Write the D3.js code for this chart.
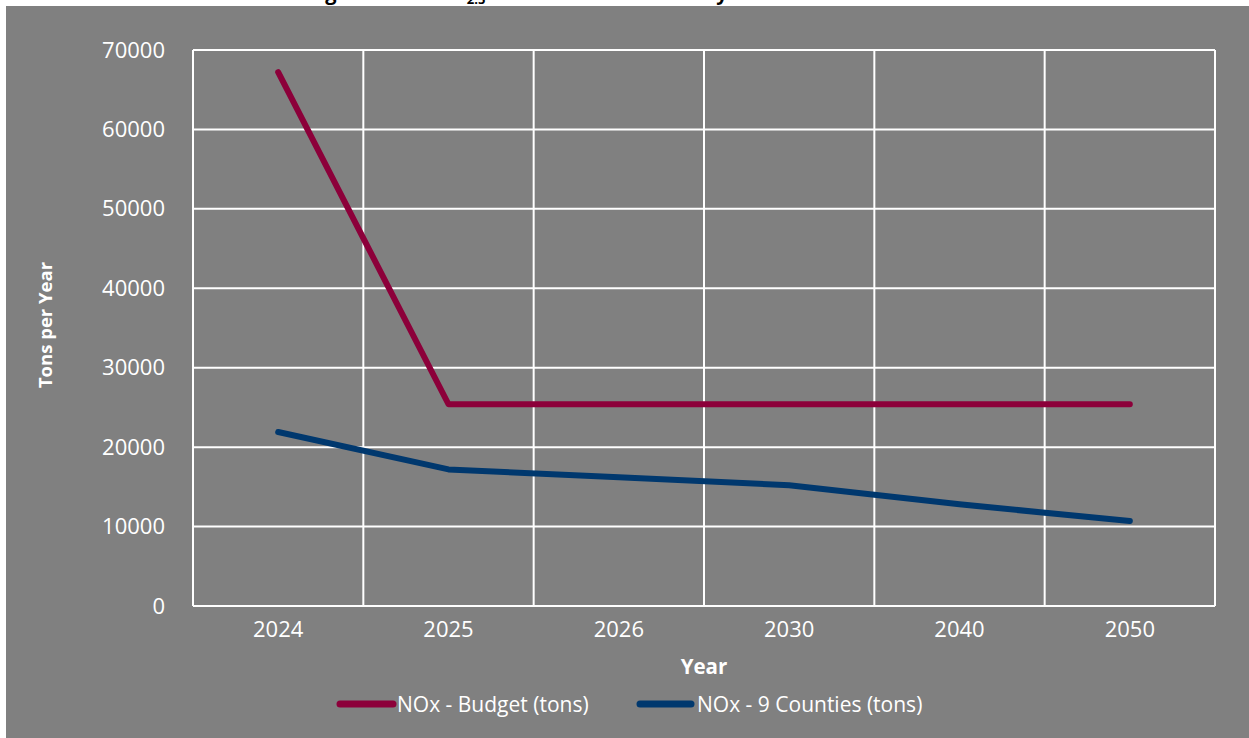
<!DOCTYPE html>
<html><head><meta charset="utf-8">
<script src="https://cdn.jsdelivr.net/npm/d3@7"></script>
<style>
html,body{margin:0;padding:0;background:#fff;overflow:hidden;}
svg{display:block;}
text{font-family:"Open Sans","Liberation Sans",sans-serif;}
</style></head>
<body>
<svg id="c" width="1249" height="738"></svg>
<script>
const categories = ["2024","2025","2026","2030","2040","2050"];
const budgetValues = [67200, 25400, 25400, 25400, 25400, 25400];
const countiesValues = [21900, 17200, 16200, 15200, 12800, 10700];
const yTicks = [0,10000,20000,30000,40000,50000,60000,70000];
const seriesNames = ["NOx - Budget (tons)", "NOx - 9 Counties (tons)"];
const seriesColors = ["#8c003a", "#00386e"];

const svg = d3.select("#c");
svg.append("rect").attr("x",6).attr("y",6).attr("width",1249).attr("height",738).attr("fill","#808080");

// title (cut off at the top edge in the reference; only descenders show)
const title = svg.append("text").attr("x",237).attr("y",0)
  .attr("font-weight","bold").attr("font-size",20).attr("fill","#000");
title.append("tspan").text("NOx Budget for the PM");
title.append("tspan").attr("font-size",13).attr("dy",4).text("2.5");
title.append("tspan").attr("dy",-4).text(" Nonattainment Area by Year");

const L=193,R=1215,T=50,B=606;
const x = d3.scaleBand().domain(categories).range([L,R]);
const y = d3.scaleLinear().domain([0,70000]).range([B,T]);

const g = svg.append("g");
g.selectAll(".hg").data(yTicks).enter().append("line")
  .attr("x1",L).attr("x2",R).attr("y1",d=>y(d)).attr("y2",d=>y(d))
  .attr("stroke","#fff").attr("stroke-width",2);
const bounds = categories.map(c=>x(c)).concat([R]);
g.selectAll(".vg").data(bounds).enter().append("line")
  .attr("x1",d=>d).attr("x2",d=>d).attr("y1",T).attr("y2",B)
  .attr("stroke","#fff").attr("stroke-width",2);

const yAxis = d3.axisLeft(y).tickValues(yTicks).tickSize(0).tickPadding(28).tickFormat(d3.format("d"));
const ya = svg.append("g").attr("transform",`translate(${L},0)`).call(yAxis);
ya.select(".domain").remove();
ya.selectAll("text").attr("fill","#fff").attr("font-size",22).attr("font-family","Open Sans, sans-serif");

const xAxis = d3.axisBottom(x).tickSize(0).tickPadding(15);
const xa = svg.append("g").attr("transform",`translate(0,${B})`).call(xAxis);
xa.select(".domain").remove();
xa.selectAll("text").attr("fill","#fff").attr("font-size",22).attr("font-family","Open Sans, sans-serif");

const line = d3.line().x((d,i)=>x(categories[i])+x.bandwidth()/2).y(d=>y(d));
[budgetValues, countiesValues].forEach((vals,i)=>{
  svg.append("path").datum(vals).attr("d",line).attr("fill","none")
    .attr("stroke",seriesColors[i]).attr("stroke-width",6)
    .attr("stroke-linecap","round").attr("stroke-linejoin","round");
});

svg.append("text").attr("transform","translate(52,325) rotate(-90)").attr("text-anchor","middle")
  .attr("font-weight","bold").attr("font-size",18.5).attr("fill","#fff").text("Tons per Year");
svg.append("text").attr("x",704).attr("y",674).attr("text-anchor","middle")
  .attr("font-weight","bold").attr("font-size",20.5).attr("fill","#fff").text("Year");

const legLine = [[340,393],[640,691]];
const legText = [397, 697];
seriesNames.forEach((n,i)=>{
  svg.append("line").attr("x1",legLine[i][0]).attr("x2",legLine[i][1]).attr("y1",704).attr("y2",704)
    .attr("stroke",seriesColors[i]).attr("stroke-width",7).attr("stroke-linecap","round");
  svg.append("text").attr("x",legText[i]).attr("y",711.5).attr("font-size",21).attr("fill","#fff").text(n);
});
</script>
</body></html>
